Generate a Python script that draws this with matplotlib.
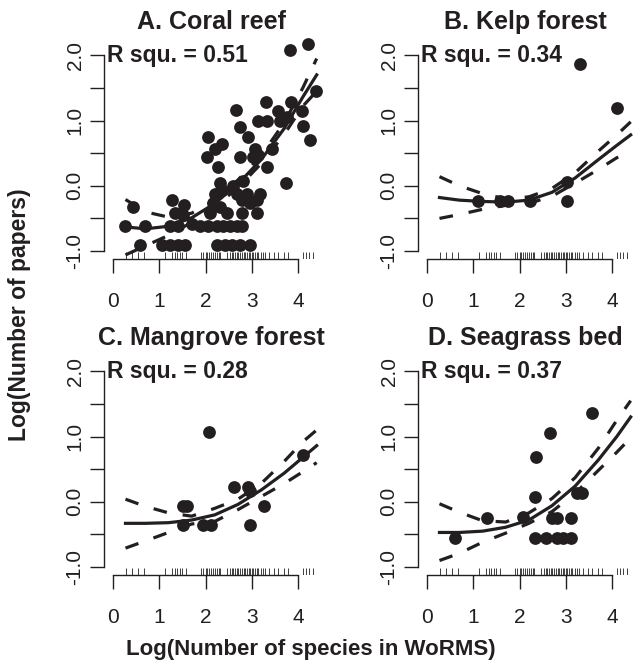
import matplotlib
matplotlib.use('Agg')
import matplotlib.pyplot as plt

plt.rcParams['font.family'] = ['Liberation Sans', 'DejaVu Sans']

ink = '#231f20'

# values
coral_x = [3.82, 4.22, 4.38, 2.65, 3.30, 3.84, 3.14, 3.32, 3.57, 3.61, 3.75, 4.08, 4.11, 4.25,
           2.74, 2.92, 2.06, 2.35, 2.20, 2.04, 2.74, 2.27, 3.07, 3.03, 3.14, 3.43, 3.32, 3.74,
           2.31, 2.20, 2.35, 2.60, 2.81, 2.67, 2.89, 3.10, 3.17, 2.96, 2.78, 1.27, 1.54, 1.34,
           1.52, 0.44, 2.17, 2.10, 2.46, 2.78, 3.10, 2.31,
           0.26, 0.69, 1.23, 1.41, 1.70, 1.88, 2.06, 2.24, 2.38, 2.53, 2.67, 2.78,
           0.58, 1.05, 1.23, 1.41, 1.56, 2.24, 2.42, 2.56, 2.74, 2.96]
coral_y = [2.08, 2.17, 1.45, 1.16, 1.29, 1.29, 1.00, 1.00, 1.14, 1.00, 1.05, 1.14, 0.92, 0.70,
           0.90, 0.75, 0.75, 0.64, 0.57, 0.44, 0.44, 0.29, 0.57, 0.44, 0.47, 0.57, 0.29, 0.04,
           0.04, -0.12, -0.06, 0.00, 0.08, -0.12, -0.12, -0.22, -0.12, -0.27, -0.22, -0.22, -0.30, -0.42,
           -0.45, -0.33, -0.27, -0.42, -0.42, -0.42, -0.42, -0.33,
           -0.61, -0.61, -0.61, -0.61, -0.58, -0.61, -0.61, -0.61, -0.61, -0.61, -0.61, -0.61,
           -0.91, -0.91, -0.91, -0.91, -0.91, -0.91, -0.91, -0.91, -0.91, -0.91]

kelp_x = [3.30, 4.10, 3.02, 3.02, 2.22, 1.58, 1.76, 1.11]
kelp_y = [1.86, 1.19, 0.06, -0.23, -0.23, -0.23, -0.23, -0.23]

mangrove_x = [2.08, 4.10, 2.62, 2.91, 2.97, 3.27, 2.96, 1.52, 1.60, 1.52, 1.95, 2.11]
mangrove_y = [1.07, 0.72, 0.23, 0.23, 0.16, -0.06, -0.36, -0.06, -0.06, -0.36, -0.36, -0.36]

seagrass_x = [3.56, 2.66, 2.35, 2.33, 3.23, 3.34, 1.30, 2.08, 2.69, 2.80, 3.11,
              0.60, 2.33, 2.58, 2.80, 2.94, 3.11]
seagrass_y = [1.36, 1.05, 0.69, 0.07, 0.14, 0.14, -0.25, -0.24, -0.25, -0.25, -0.25,
              -0.56, -0.56, -0.56, -0.56, -0.56, -0.56]

# fitted curve and 95% band, read at these x positions
fit_x = [0.27, 0.7, 1.2, 1.7, 2.2, 2.7, 3.2, 3.7, 4.1, 4.4]
coral_fit = [-0.63, -0.66, -0.62, -0.49, -0.27, 0.03, 0.40, 0.88, 1.36, 1.70]
coral_up = [-0.21, -0.40, -0.48, -0.42, -0.22, 0.09, 0.46, 0.97, 1.50, 1.95]
coral_lo = [-1.06, -0.92, -0.76, -0.56, -0.32, -0.03, 0.34, 0.79, 1.22, 1.45]
kelp_fit = [-0.18, -0.22, -0.24, -0.25, -0.22, -0.10, 0.12, 0.40, 0.62, 0.78]
kelp_up = [0.14, 0.00, -0.12, -0.20, -0.17, -0.04, 0.20, 0.53, 0.78, 0.98]
kelp_lo = [-0.50, -0.44, -0.36, -0.30, -0.27, -0.16, 0.04, 0.25, 0.43, 0.52]
mangrove_fit = [-0.33, -0.33, -0.32, -0.28, -0.20, -0.04, 0.18, 0.44, 0.68, 0.86]
mangrove_up = [0.04, -0.07, -0.17, -0.22, -0.10, 0.04, 0.28, 0.62, 0.92, 1.10]
mangrove_lo = [-0.71, -0.60, -0.47, -0.34, -0.30, -0.12, 0.08, 0.28, 0.46, 0.60]
seagrass_fit = [-0.47, -0.47, -0.45, -0.39, -0.28, -0.06, 0.24, 0.64, 1.00, 1.30]
seagrass_up = [-0.03, -0.16, -0.29, -0.31, -0.17, 0.05, 0.37, 0.82, 1.25, 1.55]
seagrass_lo = [-0.90, -0.79, -0.62, -0.48, -0.33, -0.15, 0.13, 0.48, 0.76, 0.98]

# species counts of all taxa (rug)
rug_x = [0.29, 0.42, 0.55, 0.68,
         1.12, 1.27, 1.33, 1.38, 1.44, 1.50, 1.58,
         1.90, 1.95, 2.00, 2.04, 2.08, 2.12, 2.16, 2.20, 2.24, 2.28, 2.32,
         2.47, 2.52, 2.57, 2.60, 2.64, 2.68, 2.71, 2.75, 2.78, 2.82, 2.86, 2.89, 2.93, 2.96,
         3.00, 3.03, 3.07, 3.10, 3.14, 3.19, 3.24, 3.29, 3.38, 3.48, 3.56, 3.70, 3.78,
         4.10, 4.17, 4.24, 4.31]

titles = ['A. Coral reef', 'B. Kelp forest', 'C. Mangrove forest', 'D. Seagrass bed']
rsq = ['0.51', '0.34', '0.28', '0.37']
xticks = [0, 1, 2, 3, 4]
yticks = [-1.0, -0.5, 0.0, 0.5, 1.0, 1.5, 2.0]
ytick_labels = ['-1.0', '', '0.0', '', '1.0', '', '2.0']

panels = [
    (coral_x, coral_y, coral_fit, coral_up, coral_lo),
    (kelp_x, kelp_y, kelp_fit, kelp_up, kelp_lo),
    (mangrove_x, mangrove_y, mangrove_fit, mangrove_up, mangrove_lo),
    (seagrass_x, seagrass_y, seagrass_fit, seagrass_up, seagrass_lo),
]

fig = plt.figure(figsize=(6.42, 6.70), dpi=100)
W, H = 642, 670
lefts = [104, 418]
bottoms = [259, 575]
aw, ah = 215, 220

for i, (px, py, fit, up, lo) in enumerate(panels):
    l = lefts[i % 2]
    b = bottoms[i // 2]
    ax = fig.add_axes([l / W, (H - b) / H, aw / W, ah / H])
    ax.set_xlim(-0.194, 4.45)
    ax.set_ylim(-1.122, 2.25)

    ax.plot(px, py, 'o', ms=9.2, mew=0, color=ink, clip_on=False, zorder=3)
    ax.plot(fit_x, fit, '-', lw=2.3, color=ink, zorder=4)
    for band in (up, lo):
        ax.plot(fit_x, band, '--', lw=2.3, color=ink, dashes=(4.3, 5.0),
                dash_capstyle='butt', zorder=4)

    ax.vlines(rug_x, 0, 0.03, transform=ax.get_xaxis_transform(), lw=0.6, color=ink)

    for s in ['top', 'right']:
        ax.spines[s].set_visible(False)
    ax.spines['left'].set_bounds(-1.0, 2.0)
    ax.spines['bottom'].set_bounds(0, 4)
    for s in ['left', 'bottom']:
        ax.spines[s].set_linewidth(1.0)
        ax.spines[s].set_color(ink)

    ax.set_xticks(xticks)
    ax.set_xticklabels([str(t) for t in xticks])
    ax.set_yticks(yticks)
    ax.set_yticklabels(ytick_labels, rotation=90, va='center')
    ax.tick_params(axis='x', length=10, width=1.0, pad=14, labelsize=15, color=ink, labelcolor=ink)
    ax.tick_params(axis='y', length=10, width=1.0, pad=4, labelsize=15, color=ink, labelcolor=ink)

    ax.set_title(titles[i], fontsize=18, fontweight='bold', pad=7, color=ink)
    ax.text(0.015, 2.0, 'R squ. = ' + rsq[i], transform=ax.get_yaxis_transform(),
            ha='left', va='center', fontsize=16.5, fontweight='bold', color=ink)

fig.text(20 / W, 1 - 315 / H, 'Log(Number of papers)', rotation=90, ha='center', va='center',
         fontsize=16.5, fontweight='bold', color=ink)
fig.text(311 / W, 1 - 650 / H, 'Log(Number of species in WoRMS)', ha='center', va='center',
         fontsize=16, fontweight='bold', color=ink)

fig.savefig('out.png', dpi=100)
